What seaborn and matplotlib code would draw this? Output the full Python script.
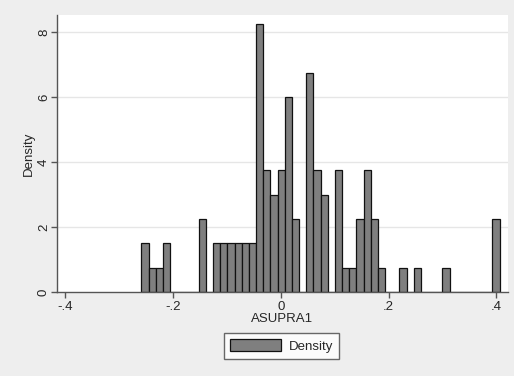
import numpy as np
import pandas as pd
import seaborn as sns
import matplotlib
matplotlib.use("Agg")
import matplotlib.pyplot as plt
from matplotlib.patches import Patch

# ---- data (density per bin, 50 equal bins) ----
bin_start = -0.2586
bin_end = 0.4062
n_bins = 50
density = [1.5, 0.75, 0.75, 1.5, 0, 0, 0, 0, 2.25, 0,
           1.5, 1.5, 1.5, 1.5, 1.5, 1.5, 8.25, 3.75, 3, 3.75,
           6, 2.25, 0, 6.75, 3.75, 3, 0, 3.75, 0.75, 0.75,
           2.25, 3.75, 2.25, 0.75, 0, 0, 0.75, 0, 0.75, 0,
           0, 0, 0.75, 0, 0, 0, 0, 0, 0, 2.25]
x_ticks = [-0.4, -0.2, 0, 0.2, 0.4]
x_tick_labels = ["-.4", "-.2", "0", ".2", ".4"]
y_ticks = [0, 2, 4, 6, 8]
y_tick_labels = ["0", "2", "4", "6", "8"]
x_label = "ASUPRA1"
y_label = "Density"
legend_label = "Density"

edges = np.linspace(bin_start, bin_end, n_bins + 1)
centers = (edges[:-1] + edges[1:]) / 2
df = pd.DataFrame({"x": centers, "w": density})

sns.set_theme(style="white")
plt.rcParams["font.family"] = ["Liberation Sans", "DejaVu Sans"]

W, H = 514, 376
fig = plt.figure(figsize=(W / 100, H / 100), dpi=100)
fig.patch.set_facecolor("#eeeeee")
ax = fig.add_axes([57 / W, 1 - 292 / H, (508 - 57) / W, (292 - 15) / H])
ax.set_facecolor("white")

bar_color = "#7f7f7f"
sns.histplot(data=df, x="x", weights="w", bins=n_bins, binrange=(bin_start, bin_end),
             stat="count", color=bar_color, edgecolor="#111111", linewidth=0.9,
             alpha=1, ax=ax)

ax.set_xlim(-0.4154, 0.4217)
ax.set_ylim(0, 8.53)
ax.set_xticks(x_ticks)
ax.set_xticklabels(x_tick_labels)
ax.set_yticks(y_ticks)
ax.set_yticklabels(y_tick_labels, rotation=90, va="center")
for yv in y_ticks[1:]:
    ax.axhline(yv, color="#e6e6e6", lw=1, zorder=0)

for s in ["top", "right"]:
    ax.spines[s].set_visible(False)
for s in ["left", "bottom"]:
    ax.spines[s].set_color("#555555")
    ax.spines[s].set_linewidth(1.0)
ax.tick_params(axis="both", which="major", direction="out", length=4.3, width=1,
               color="#555555", labelsize=9.5, left=True, bottom=True)
ax.tick_params(axis="y", pad=0.8)
ax.tick_params(axis="x", pad=2.5)
ax.set_xlabel(x_label, fontsize=9.5, labelpad=0)
ax.set_ylabel(y_label, fontsize=9.5, labelpad=2.5)

leg = fig.legend(handles=[Patch(facecolor=bar_color, edgecolor="#111111", linewidth=0.9)],
                 labels=[legend_label], loc="center", bbox_to_anchor=(281.5 / W, 1 - 346 / H),
                 frameon=True, fancybox=False, fontsize=9.5, handlelength=3.9,
                 handleheight=1.0, borderpad=0.45, handletextpad=0.6)
leg.get_frame().set_edgecolor("#444444")
leg.get_frame().set_linewidth(1.0)
leg.get_frame().set_facecolor("white")

fig.savefig("out.png", dpi=100, facecolor=fig.get_facecolor())
